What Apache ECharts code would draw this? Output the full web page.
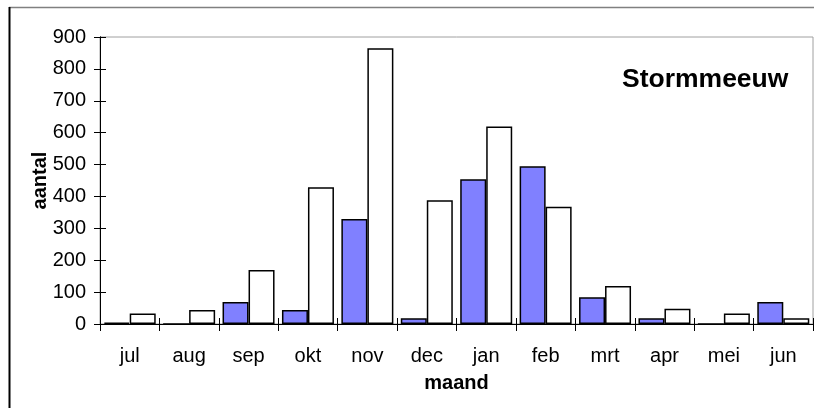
<!DOCTYPE html>
<html>
<head>
<meta charset="utf-8">
<script src="https://cdn.jsdelivr.net/npm/echarts@6/dist/echarts.min.js"></script>
<style>html,body{margin:0;padding:0;background:#fff}#c{width:814px;height:408px}</style>
</head>
<body>
<div id="c"></div>
<script>
const categories = ['jul','aug','sep','okt','nov','dec','jan','feb','mrt','apr','mei','jun'];
const seriesBlue = [4, 0, 69, 44, 329, 18, 454, 495, 84, 18, 0, 69];
const seriesWhite = [33, 44, 169, 429, 865, 388, 619, 368, 119, 48, 33, 18];
const yTicks = {min: 0, max: 900, interval: 100};
const titleText = 'Stormmeeuw';
const xName = 'maand';
const yName = 'aantal';

const FONT = '"Liberation Sans", Arial, sans-serif';
const chart = echarts.init(document.getElementById('c'), null, {renderer: 'canvas'});
const gridBox = {left: 100, top: 37, right: 1, bottom: 84, containLabel: false};
const baseX = {
  type: 'category', data: categories, position: 'bottom',
  boundaryGap: true,
  axisLine: {show: true, lineStyle: {color: '#000', width: 1}},
  splitLine: {show: false}
};
const baseY = {
  type: 'value', position: 'left',
  min: yTicks.min, max: yTicks.max, interval: yTicks.interval,
  axisLine: {show: true, lineStyle: {color: '#000', width: 1}},
  splitLine: {show: false}
};
chart.setOption({
  animation: false,
  backgroundColor: '#fff',
  textStyle: {fontFamily: FONT},
  grid: [
    Object.assign({show: true, borderColor: '#a0a0a0', borderWidth: 1, backgroundColor: 'transparent'}, gridBox),
    Object.assign({show: false}, gridBox)
  ],
  graphic: [
    {type: 'line', shape: {x1: 9, y1: 7.5, x2: 814, y2: 7.5}, style: {stroke: '#808080', lineWidth: 1.5}, z: 10},
    {type: 'line', shape: {x1: 9.5, y1: 7, x2: 9.5, y2: 408}, style: {stroke: '#000', lineWidth: 2}, z: 10},
    {type: 'text', left: 622, top: 66, style: {text: titleText, font: 'bold 26.5px ' + FONT, fill: '#000'}, z: 10}
  ],
  xAxis: [
    Object.assign({}, baseX, {
      gridIndex: 0,
      name: xName, nameLocation: 'middle', nameGap: 49,
      nameTextStyle: {fontSize: 20, fontWeight: 'bold', color: '#000', fontFamily: FONT},
      axisTick: {show: true, inside: false, length: 7, lineStyle: {color: '#000'}},
      axisLabel: {show: true, fontSize: 20, color: '#000', margin: 22, fontFamily: FONT}
    }),
    Object.assign({}, baseX, {
      gridIndex: 1,
      axisTick: {show: true, inside: true, length: 6, lineStyle: {color: '#000'}},
      axisLabel: {show: false}
    })
  ],
  yAxis: [
    Object.assign({}, baseY, {
      gridIndex: 0,
      name: yName, nameLocation: 'middle', nameGap: 50, nameMoveOverlap: false,
      nameTextStyle: {fontSize: 20, fontWeight: 'bold', color: '#000', fontFamily: FONT},
      axisTick: {show: true, inside: false, length: 6, lineStyle: {color: '#000'}},
      axisLabel: {show: true, fontSize: 20, color: '#000', margin: 14, fontFamily: FONT}
    }),
    Object.assign({}, baseY, {
      gridIndex: 1,
      axisTick: {show: true, inside: true, length: 6, lineStyle: {color: '#000'}},
      axisLabel: {show: false}
    })
  ],
  series: [
    {type: 'bar', data: seriesBlue, xAxisIndex: 0, yAxisIndex: 0, barGap: '0%', barWidth: 26,
     itemStyle: {color: '#8080ff', borderColor: '#000', borderWidth: 1.5}},
    {type: 'bar', data: seriesWhite, xAxisIndex: 0, yAxisIndex: 0, barGap: '0%', barWidth: 26,
     itemStyle: {color: '#ffffff', borderColor: '#000', borderWidth: 1.5}}
  ]
});
</script>
</body>
</html>
